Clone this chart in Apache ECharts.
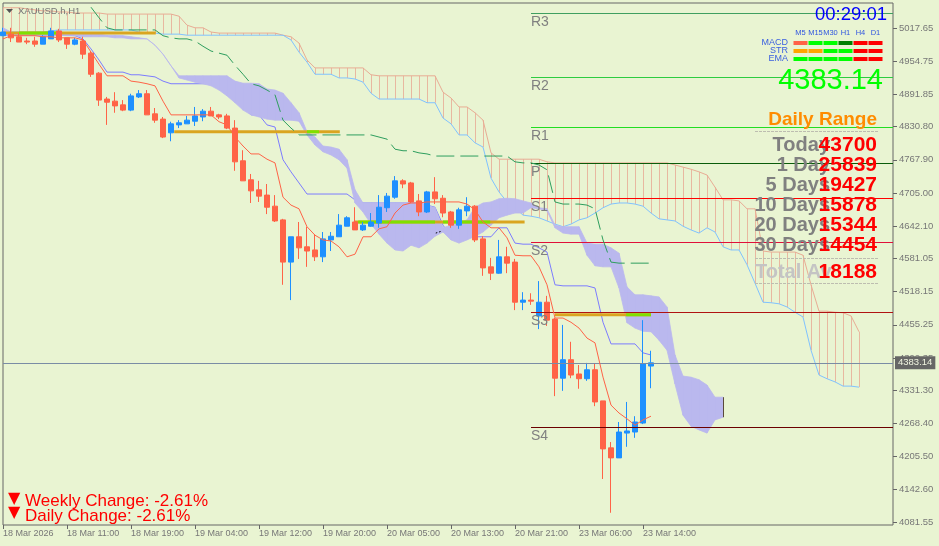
<!DOCTYPE html>
<html>
<head>
<meta charset="utf-8">
<style>html,body{margin:0;padding:0;background:#e9f4d2}#main{width:939px;height:546px}</style>
<script src="https://cdn.jsdelivr.net/npm/echarts@6/dist/echarts.min.js"></script>
</head>
<body>
<div id="main"></div>
<script>
var chart = echarts.init(document.getElementById('main'));

var FONT = '"Liberation Sans", Arial, sans-serif';

var opens = [5003,5006,5001,4993,4993,4987,4997,5012,4999,4987,
    4993,4970,4932,4883,4879,4872,4862,4887,4893,4855,
    4845,4819,4834,4836,4841,4849,4860,4853,4851,4828,
    4766,4730,4711,4701,4680,4654,4574,4622,4603,4597,
    4584,4616,4622,4642,4650,4635,4642,4648,4677,4697,
    4728,4724,4690,4669,4707,4695,4669,4644,4671,4680,
    4618,4565,4553,4584,4574,4498,4502,4472,4498,4466,
    4354,4389,4362,4353,4370,4311,4222,4203,4250,4252,
    4269,4377];
var closes = [5010,4999,4991,4991,4987,5001,5012,4995,4987,4995,
    4968,4930,4881,4877,4870,4862,4889,4893,4853,4843,
    4811,4836,4838,4843,4851,4860,4851,4849,4828,4764,
    4728,4709,4699,4678,4652,4574,4622,4601,4595,4584,
    4618,4623,4644,4658,4635,4644,4650,4678,4699,4728,
    4722,4688,4669,4707,4694,4667,4644,4673,4680,4616,
    4563,4553,4584,4572,4498,4502,4500,4498,4464,4354,
    4389,4360,4353,4370,4309,4220,4203,4252,4254,4271,
    4381,4383.14];
var lows = [5003,4991,4991,4987,4982,4987,4997,4991,4978,4985,
    4959,4925,4870,4834,4857,4860,4860,4885,4853,4838,
    4809,4803,4828,4836,4832,4841,4851,4845,4826,4747,
    4728,4686,4688,4665,4650,4531,4502,4580,4565,4576,
    4574,4595,4622,4642,4635,4633,4641,4639,4669,4694,
    4714,4686,4661,4667,4684,4659,4639,4637,4661,4612,
    4548,4540,4552,4553,4483,4483,4493,4447,4453,4320,
    4330,4354,4334,4349,4301,4163,4099,4203,4224,4241,
    4267,4335];
var highs = [5018,5018,5008,4999,5001,5004,5018,5016,4999,4999,
    5001,4974,4934,4887,4896,4881,4893,4900,4900,4866,
    4849,4840,4843,4851,4868,4864,4868,4855,4855,4843,
    4786,4741,4728,4722,4701,4656,4622,4650,4641,4627,
    4631,4631,4665,4661,4678,4650,4667,4701,4705,4737,
    4731,4726,4703,4709,4735,4701,4671,4677,4697,4682,
    4623,4582,4616,4603,4580,4517,4515,4538,4510,4468,
    4455,4423,4379,4383,4381,4311,4233,4271,4309,4282,
    4464,4406];

var tenkan = [4997,5003,5003,5003,5003,5001,5001,4999,4999,4999,
    4995,4972,4949,4927,4927,4927,4917,4915,4912,4908,
    4879,4853,4853,4853,4853,4853,4853,4840,4834,4811,
    4794,4779,4779,4769,4762,4697,4682,4675,4641,4625,
    4616,4614,4603,4584,4589,4622,4622,4637,4641,4667,
    4682,4686,4686,4688,4688,4688,4688,4688,4684,4673,
    4650,4639,4639,4620,4587,4586,4586,4565,4531,4468,
    4468,4460,4449,4430,4421,4356,4303,4288,4277,4265,
    4275,4282];
var kijun = [5004,5004,5004,5004,5004,5004,5004,5004,5004,5003,
    4997,4978,4957,4934,4934,4934,4929,4929,4927,4925,
    4917,4912,4912,4912,4912,4912,4912,4912,4912,4896,
    4872,4853,4853,4834,4830,4768,4745,4724,4703,4703,
    4703,4703,4703,4703,4692,4686,4686,4686,4686,4686,
    4686,4686,4686,4682,4678,4644,4623,4622,4622,4622,
    4622,4622,4639,4639,4610,4608,4608,4601,4593,4531,
    4529,4529,4529,4529,4525,4460,4419,4419,4419,4419,
    4402,4398];
var chikou = [null,null,null,null,null,null,null,null,null,null,
    null,5057,5037,5018,5014,5014,5014,5014,5014,5014,
    5003,4999,4997,4997,4993,4983,4974,4970,4966,4947,
    4930,4912,4908,4900,4891,4843,4828,4815,4815,4815,
    4815,4815,4815,4815,4815,4815,4815,4811,4807,4788,
    4785,4785,4781,4779,4775,4775,4775,4775,4775,4775,
    4775,4775,4775,4775,4764,4762,4762,4758,4749,4688,
    4684,4684,4684,4682,4675,4616,4574,4572,4572,4572,
    4572,4572];

var spanA = [5056,5056,5056,5054,5052,5050,5050,5048,5048,5046,
    5046,5046,5046,5044,5044,5044,5044,5044,5044,5044,
    5044,5044,5040,5023,5018,5018,5010,5008,5008,5008,
    5008,5008,5008,5008,5008,5004,5001,4989,4957,4942,
    4942,4942,4942,4942,4942,4942,4929,4927,4927,4927,
    4927,4927,4927,4927,4927,4896,4885,4868,4868,4857,
    4843,4781,4769,4769,4769,4769,4769,4769,4764,4762,
    4762,4762,4762,4762,4762,4762,4762,4762,4762,4762,
    4762,4762,4762,4762,4758,4754,4750,4745,4739,4716,
    4692,4692,4690,4675,4675,4595,4593,4593,4593,4593,
    4587,4531,4481,4481,4479,4478,4472,4442];
var spanB = [5010,5010,5010,5010,5010,5010,5012,5014,5014,5014,
    5014,5014,5014,5014,5014,5014,5014,5010,5008,5008,
    5006,5006,5006,5004,5004,5004,5004,5004,5004,5004,
    5004,5004,5004,5004,5004,5004,4995,4972,4953,4930,
    4930,4930,4923,4923,4921,4915,4894,4883,4883,4883,
    4883,4883,4883,4876,4876,4847,4836,4815,4815,4800,
    4792,4733,4707,4688,4677,4663,4661,4658,4652,4646,
    4641,4646,4654,4658,4667,4677,4684,4686,4686,4684,
    4680,4667,4656,4654,4652,4642,4635,4629,4639,4631,
    4603,4597,4597,4569,4534,4498,4497,4495,4489,4479,
    4470,4407,4360,4353,4347,4339,4339,4337];

var cloudHigh = [5018,5010,5008,5008,5008,5008,5008,5008,5008,5006,
    5006,5006,5006,5004,5004,5003,5001,4999,4997,4985,
    4968,4946,4927,4927,4927,4927,4927,4927,4927,4917,
    4913,4913,4912,4902,4900,4894,4876,4857,4821,4811,
    4794,4792,4788,4768,4711,4686,4686,4686,4686,4686,
    4686,4686,4686,4682,4677,4639,4644,4648,4654,4678,
    4686,4688,4694,4695,4694,4690,4686,4677,4675,4644,
    4641,4641,4641,4610,4608,4608,4601,4591,4527,4512,
    4512,4510,4508,4489,4398,4358,4356,4351,4341,4318,
    4318];
var cloudLow = [5006,5004,5004,5004,5004,5004,5004,5004,5003,5003,
    5001,5001,5001,5001,4999,4999,4997,4997,4997,4985,
    4968,4946,4923,4919,4915,4912,4908,4900,4889,4876,
    4862,4853,4849,4845,4843,4843,4843,4841,4815,4796,
    4783,4777,4768,4752,4686,4669,4646,4627,4610,4597,
    4595,4606,4601,4610,4623,4631,4616,4610,4616,4623,
    4631,4644,4658,4663,4667,4667,4677,4675,4671,4639,
    4629,4627,4627,4587,4567,4565,4565,4525,4459,4449,
    4443,4442,4426,4407,4343,4284,4263,4256,4250,4275,
    4280];

var pivotNames = ['R3', 'R2', 'R1', 'P', 'S1', 'S2', 'S3', 'S4'];
var pivotLevels = [5046, 4925, 4829, 4762, 4695, 4612, 4479, 4261];
var pivotColors = ['#3f9f60', '#2ecc40', '#22dd22', '#0a5c0a', '#ff0000', '#e0103a', '#b01212', '#6b0000'];
var pivotStart = 66;

var goldStart = [0, 21.4, 44, 69];
var goldEnd = [19.1, 42.1, 65.2, 81];
var goldPrice = [5008, 4821, 4650, 4474];
var greenStart = [2, 38, 44.4, 55, 77.9];
var greenEnd = [7, 39.5, 54, 60.9, 81];
var greenPrice = [5008, 4821, 4650, 4650, 4474];

var currentPrice = 4383.14;
var priceTicks = [5017.65, 4954.75, 4891.85, 4830.80, 4767.90, 4705.00, 4642.10, 4581.05,
    4518.15, 4455.25, 4392.35, 4331.30, 4268.40, 4205.50, 4142.60, 4081.55];
var timeLabels = ['18 Mar 2026', '18 Mar 11:00', '18 Mar 19:00', '19 Mar 04:00', '19 Mar 12:00', '19 Mar 20:00',
    '20 Mar 05:00', '20 Mar 13:00', '20 Mar 21:00', '23 Mar 06:00', '23 Mar 14:00'];

var statusCols = ['M5', 'M15', 'M30', 'H1', 'H4', 'D1'];
var statusRows = ['MACD', 'STR', 'EMA'];
var statusColors = [
    ['#ff6347', '#00ff00', '#00ff00', '#008000', '#ff0000', '#ff0000'],
    ['#ffa500', '#ffa500', '#00ff00', '#00ff00', '#ff0000', '#ff0000'],
    ['#00ff00', '#00ff00', '#00ff00', '#00ff00', '#ff0000', '#ff0000']
];

var rangeLabels = ['Today', '1 Day', '5 Days', '10 Days', '20 Days', '30 Days'];
var rangeValues = ['43700', '25839', '19427', '15878', '15344', '14454'];

var xMax = 111.25;

function pairs(arr) {
    return arr.map(function (v, i) { return [i, v]; });
}

function lineSeries(arr, color, z, dash) {
    return {
        type: 'line', data: pairs(arr), showSymbol: false, symbol: 'none', z: z, silent: true,
        lineStyle: { color: color, width: 1, type: dash || 'solid' }
    };
}

function segment(from, to, price, color) {
    return {
        type: 'line', data: [[from, price], [to, price]], showSymbol: false, symbol: 'none', z: 3, silent: true,
        lineStyle: { color: color, width: 3, cap: 'butt' }
    };
}

function verticals(data, color, z) {
    return {
        type: 'custom', data: data, z: z, silent: true,
        encode: { x: 0, y: [1, 2] },
        renderItem: function (params, api) {
            var a = api.coord([api.value(0), api.value(1)]);
            var b = api.coord([api.value(0), api.value(2)]);
            var x = Math.floor(a[0]) + 0.5;
            return { type: 'line', shape: { x1: x, y1: a[1], x2: x, y2: b[1] }, style: { stroke: color, lineWidth: 1 } };
        }
    };
}

var cloudColor = '#bab8ee';
var cloudData = cloudHigh.slice(0, -1).map(function (h, i) {
    return [i, h, cloudLow[i], cloudHigh[i + 1], cloudLow[i + 1]];
});

var series = [
    verticals(spanA.map(function (a, i) { return [i, a, spanB[i]]; }), '#e8b8a0', 1),
    lineSeries(spanA, '#e8ac94', 1),
    lineSeries(spanB, '#80c2ff', 1),
    lineSeries(kijun, '#7c7cff', 1),
    {
        type: 'custom', data: cloudData, z: 2, silent: true,
        encode: { x: 0, y: [1, 2] },
        renderItem: function (params, api) {
            var x = api.value(0);
            return {
                type: 'polygon',
                shape: { points: [
                    api.coord([x, api.value(1)]), api.coord([x + 1, api.value(3)]),
                    api.coord([x + 1, api.value(4)]), api.coord([x, api.value(2)])
                ] },
                style: { fill: cloudColor, stroke: cloudColor, lineWidth: 0.8 }
            };
        }
    },
    verticals([[cloudHigh.length - 1, cloudHigh[cloudHigh.length - 1], cloudLow[cloudLow.length - 1]]], '#5a4a3a', 2)
];

goldPrice.forEach(function (p, i) { series.push(segment(goldStart[i], goldEnd[i], p, '#daa520')); });
greenPrice.forEach(function (p, i) { series.push(segment(greenStart[i], greenEnd[i], p, '#7fe000')); });

series.push({
    type: 'candlestick', z: 4, silent: true, barWidth: 5,
    data: opens.map(function (o, i) { return [i, o, closes[i], lows[i], highs[i]]; }),
    encode: { x: 0, y: [1, 2, 3, 4] },
    itemStyle: { color: '#1e90ff', color0: '#ff6347', borderColor: '#1e90ff', borderColor0: '#ff6347', borderWidth: 1 },
    markLine: {
        silent: true, symbol: 'none', animation: false, precision: 2,
        data: pivotNames.map(function (name, i) {
            return [
                {
                    coord: [pivotStart, pivotLevels[i]], name: name,
                    lineStyle: { color: pivotColors[i], width: 1, type: 'solid' },
                    label: { show: true, formatter: name, position: 'insideStartBottom', distance: [0, 2], color: '#808080', fontSize: 14, fontFamily: FONT }
                },
                { coord: [xMax, pivotLevels[i]] }
            ];
        }).concat([[
            {
                coord: [0, currentPrice],
                lineStyle: { color: '#7a8ca5', width: 1, type: 'solid' },
                label: {
                    show: true, position: 'end', distance: 2, formatter: '4383.14',
                    color: '#f0f4e0', backgroundColor: '#666666', padding: [2, 3, 1, 3], fontSize: 9.5, fontFamily: FONT
                }
            },
            { coord: [xMax, currentPrice] }
        ]])
    }
});

series.push(lineSeries(chikou, '#2e9e5e', 5, [18, 6]));
series.push(lineSeries(tenkan, '#ff6347', 5));
series.push({
    type: 'line', data: [[54.1, 4629], [54.9, 4633]], showSymbol: false, symbol: 'none', z: 5, silent: true,
    lineStyle: { color: '#000000', width: 1, type: [1.5, 2] }
});

var statusData = [];
statusRows.forEach(function (r, ri) {
    statusCols.forEach(function (c, ci) { statusData.push([ci, ri, statusColors[ri][ci]]); });
});
series.push({
    type: 'scatter', xAxisIndex: 1, yAxisIndex: 1, data: statusData, symbol: 'rect', symbolSize: [14, 4], z: 6, silent: true,
    itemStyle: { opacity: 1, color: function (p) { return p.value[2]; } }
});

function txt(text, x, y, font, fill, align) {
    return { type: 'text', z: 100, silent: true, style: { text: text, x: x, y: y, font: font, fill: fill, align: align || 'left', verticalAlign: 'middle' } };
}
function dashLine(y) {
    return { type: 'line', z: 100, silent: true, shape: { x1: 755, y1: y, x2: 878, y2: y }, style: { stroke: '#bdbdb0', lineWidth: 1, lineDash: [3, 1] } };
}

var graphics = [
    { type: 'polygon', z: 100, silent: true, shape: { points: [[6, 9], [13, 9], [9.5, 13]] }, style: { fill: '#555555' } },
    txt('XAUUSD.h,H1', 18, 11, '9.5px ' + FONT, '#777777'),
    txt('00:29:01', 887, 15, '18.5px ' + FONT, '#0000ff', 'right'),
    txt('4383.14', 883, 81, '29px ' + FONT, '#00ff00', 'right'),
    txt('Daily Range', 877, 120, 'bold 19px ' + FONT, '#ff8c00', 'right'),
    dashLine(131.5), dashLine(258.5), dashLine(283.5),
    txt('Total Av', 755, 272, 'bold 20px ' + FONT, '#c4c4c4'),
    txt('18188', 877, 272, 'bold 21px ' + FONT, '#ff0000', 'right'),
    txt('▼', 8, 499, '16px "DejaVu Sans"', '#ff0000'),
    txt('Weekly Change: -2.61%', 25, 501, '17px ' + FONT, '#ff0000'),
    txt('▼', 8, 513, '16px "DejaVu Sans"', '#ff0000'),
    txt('Daily Change: -2.61%', 25, 516, '17px ' + FONT, '#ff0000')
];
rangeLabels.forEach(function (label, i) {
    var y = 145 + i * 20;
    graphics.push(txt(label, 830, y, 'bold 20px ' + FONT, '#808080', 'right'));
    graphics.push(txt(rangeValues[i], 877, y, 'bold 21px ' + FONT, '#ff0000', 'right'));
});

var option = {
    animation: false,
    backgroundColor: '#e9f4d2',
    grid: [
        { left: 3, top: 3, right: 46, bottom: 21, show: true, borderColor: '#666666', borderWidth: 1, backgroundColor: 'transparent' },
        { left: 793, top: 39, width: 90, height: 24 }
    ],
    xAxis: [
        {
            type: 'value', min: 0, max: xMax, splitLine: { show: false }, axisLine: { show: false },
            axisTick: { show: true, length: 4, customValues: timeLabels.map(function (t, i) { return i * 8; }), lineStyle: { color: '#666666' } },
            axisLabel: {
                customValues: timeLabels.map(function (t, i) { return i * 8; }),
                formatter: function (v) { return timeLabels[v / 8]; },
                align: 'left', margin: 4, color: '#777777', fontSize: 9, fontFamily: FONT
            }
        },
        {
            type: 'category', gridIndex: 1, position: 'top', data: statusCols,
            axisLine: { show: false }, axisTick: { show: false }, splitLine: { show: false },
            axisLabel: { margin: 2, color: '#2f55e0', fontSize: 7.5, fontFamily: FONT, interval: 0 }
        }
    ],
    yAxis: [
        {
            type: 'value', position: 'right', min: 4075.8, max: 5065, splitLine: { show: false },
            axisLine: { show: false, onZero: false },
            axisTick: { show: true, length: 4, customValues: priceTicks, lineStyle: { color: '#666666' } },
            axisLabel: {
                customValues: priceTicks,
                formatter: function (v) { return v.toFixed(2); },
                margin: 6, color: '#777777', fontSize: 9.5, fontFamily: FONT
            }
        },
        {
            type: 'category', gridIndex: 1, inverse: true, data: statusRows,
            axisLine: { show: false }, axisTick: { show: false }, splitLine: { show: false },
            axisLabel: { margin: 5, color: '#3a5fe0', fontSize: 9, fontFamily: FONT, interval: 0 }
        }
    ],
    series: series,
    graphic: graphics
};

chart.setOption(option);
</script>
</body>
</html>
